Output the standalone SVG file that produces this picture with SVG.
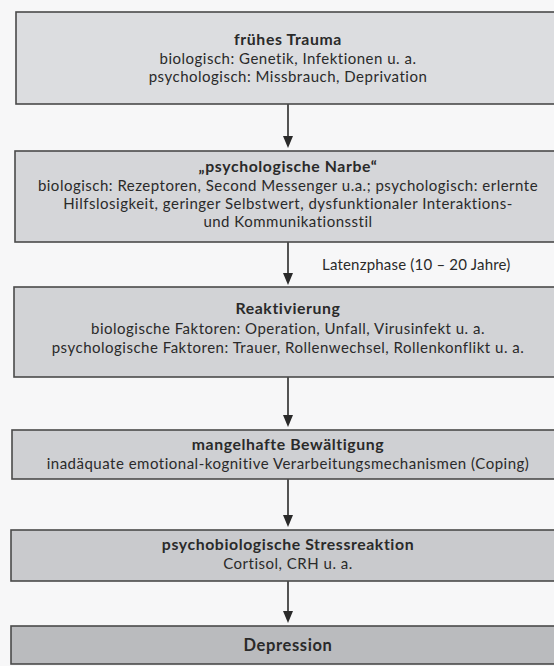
<svg xmlns="http://www.w3.org/2000/svg" width="554" height="666" viewBox="0 0 554 666">
<style>
.box{stroke:#4a4a4a;stroke-width:1.6}
text{font-family:Lato,"Open Sans",sans-serif;fill:#2a2a2a;text-anchor:middle;font-size:15px;letter-spacing:0.5px}
.t{font-weight:bold;font-size:15.8px;letter-spacing:0.6px}
.conn{stroke:#2a2a2a;stroke-width:1.6;fill:none}
.ah{fill:#2a2a2a}
</style>
<rect width="554" height="666" fill="#f7f7f8"/>
<g id="connectors">
<line class="conn" x1="288" y1="104" x2="288" y2="140"/>
<path class="ah" d="M283,136 L293,136 L288,148 Z"/>
<line class="conn" x1="288" y1="241" x2="288" y2="277"/>
<path class="ah" d="M283,273 L293,273 L288,285 Z"/>
<line class="conn" x1="288" y1="377" x2="288" y2="419"/>
<path class="ah" d="M283,415 L293,415 L288,427 Z"/>
<line class="conn" x1="288" y1="479" x2="288" y2="519"/>
<path class="ah" d="M283,515 L293,515 L288,527 Z"/>
<line class="conn" x1="288" y1="581" x2="288" y2="615"/>
<path class="ah" d="M283,611 L293,611 L288,623 Z"/>
<text x="322" y="270" style="text-anchor:start;letter-spacing:0.2px">Latenzphase (10 – 20 Jahre)</text>
</g>
<g id="n1">
<rect class="box" x="16" y="12" width="560" height="92" fill="#dcdde0"/>
<text class="t" x="288" y="45">frühes Trauma</text>
<text x="288" y="64">biologisch: Genetik, Infektionen u. a.</text>
<text x="288" y="82">psychologisch: Missbrauch, Deprivation</text>
</g>
<g id="n2">
<rect class="box" x="15" y="151" width="560" height="91" fill="#d5d6d9"/>
<text class="t" x="288" y="172">„psychologische Narbe“</text>
<text x="288" y="191">biologisch: Rezeptoren, Second Messenger u.a.; psychologisch: erlernte</text>
<text x="288" y="209">Hilfslosigkeit, geringer Selbstwert, dysfunktionaler Interaktions-</text>
<text x="288" y="227">und Kommunikationsstil</text>
</g>
<g id="n3">
<rect class="box" x="14" y="287" width="560" height="90" fill="#d2d3d6"/>
<text class="t" x="288" y="314">Reaktivierung</text>
<text x="288" y="334">biologische Faktoren: Operation, Unfall, Virusinfekt u. a.</text>
<text x="288" y="353">psychologische Faktoren: Trauer, Rollenwechsel, Rollenkonflikt u. a.</text>
</g>
<g id="n4">
<rect class="box" x="12" y="430" width="560" height="49" fill="#cfd0d3"/>
<text class="t" x="288" y="450">mangelhafte Bewältigung</text>
<text x="288" y="469">inadäquate emotional-kognitive Verarbeitungsmechanismen (Coping)</text>
</g>
<g id="n5">
<rect class="box" x="11" y="530" width="560" height="51" fill="#c9cacd"/>
<text class="t" x="288" y="550">psychobiologische Stressreaktion</text>
<text x="288" y="569">Cortisol, CRH u. a.</text>
</g>
<g id="n6">
<rect class="box" x="11" y="626" width="560" height="38" fill="#babbbe"/>
<text class="t" x="288" y="651" style="font-size:16.5px">Depression</text>
</g>
</svg>
